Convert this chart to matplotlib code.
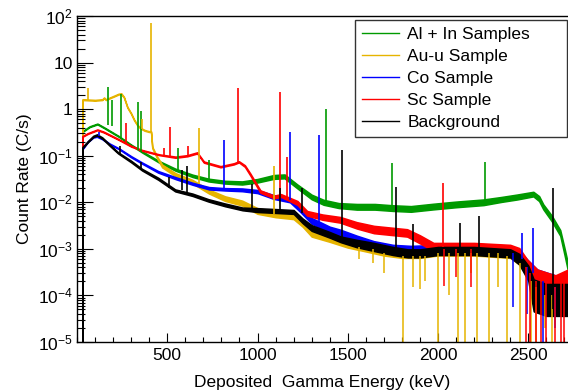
import numpy as np
import matplotlib.pyplot as plt
from matplotlib.lines import Line2D
from matplotlib.ticker import FixedLocator, FixedFormatter, MultipleLocator, LogLocator, NullFormatter

plt.rcParams['font.family'] = ['Liberation Sans', 'DejaVu Sans']
plt.rcParams['mathtext.fontset'] = 'custom'
plt.rcParams['mathtext.rm'] = 'Liberation Sans'
plt.rcParams['mathtext.it'] = 'Liberation Sans:italic'

# ---- data: energy (keV), rate (C/s), band spread factor ----
# Al + In samples
alin_e = [30, 30.5, 70, 113, 150, 231, 300, 362, 452, 546, 640, 729, 820, 915, 1000, 1090, 1150, 1220,
          1300, 1366, 1450, 1550, 1650, 1750, 1850, 1975, 2100, 2252, 2350, 2439, 2528, 2560, 2583,
          2630, 2677, 2700, 2720]
alin_r = [1e-6, 0.33, 0.42, 0.48, 0.40, 0.26, 0.17, 0.12, 0.075, 0.05, 0.037, 0.030, 0.027, 0.026,
          0.029, 0.035, 0.036, 0.022, 0.013, 0.010, 0.0085, 0.008, 0.008, 0.0075, 0.0072, 0.0081,
          0.009, 0.010, 0.0115, 0.013, 0.015, 0.012, 0.008, 0.0045, 0.0022, 0.0009, 0.0004]
alin_s = [1, 1.02, 1.02, 1.02, 1.02, 1.02, 1.02, 1.03, 1.04, 1.05, 1.06, 1.07, 1.07, 1.08, 1.09,
          1.1, 1.1, 1.1, 1.12, 1.13, 1.13, 1.15, 1.15, 1.15, 1.15, 1.15, 1.15, 1.15, 1.13, 1.13,
          1.12, 1.13, 1.13, 1.15, 1.15, 1.18, 1.2]
alin_pk_e = [172, 192, 243, 339, 357, 559, 732, 1382, 1746, 2262]
alin_pk_top = [3.0, 1.6, 2.1, 1.4, 0.9, 0.15, 0.08, 1.0, 0.07, 0.072]
alin_pk_base = [0.45, 0.43, 0.25, 0.13, 0.12, 0.05, 0.03, 0.01, 0.0075, 0.01]

# Au-u sample
au_e = [30, 30.5, 100, 140, 150, 160, 190, 230, 245, 260, 279, 300, 316, 335, 352, 375, 398, 410,
        417, 425, 445, 472, 546, 638, 731, 820, 915, 1000, 1100, 1200, 1250, 1300, 1400, 1500,
        1600, 1700, 1800, 1900, 2000, 2200, 2400, 2450, 2500, 2550, 2650, 2720]
au_r = [1e-6, 1.6, 1.55, 1.6, 1.75, 1.6, 1.8, 2.1, 2.15, 1.8, 1.1, 0.8, 0.59, 0.45, 0.39, 0.35, 0.33,
        0.33, 0.15, 0.13, 0.09, 0.06, 0.039, 0.028, 0.017, 0.012, 0.0096, 0.0065, 0.0055, 0.005,
        0.0035, 0.0022, 0.0017, 0.0013, 0.0011, 0.0009, 0.0008, 0.0008, 0.0009, 0.0009, 0.0008,
        0.0006, 0.00035, 0.00015, 0.0001, 0.0001]
au_s = [1, 1.02, 1.02, 1.02, 1.02, 1.02, 1.02, 1.02, 1.02, 1.02, 1.02, 1.02, 1.02, 1.02, 1.02,
        1.02, 1.02, 1.02, 1.03, 1.04, 1.05, 1.07, 1.08, 1.09, 1.1, 1.12, 1.13, 1.15, 1.15, 1.15,
        1.17, 1.2, 1.2, 1.22, 1.25, 1.25, 1.25, 1.25, 1.25, 1.25, 1.25, 1.3, 1.4, 1.8, 1.8, 1.8]
au_pk_e = [59, 358, 412, 675, 1090]
au_pk_top = [2.9, 0.62, 72, 0.39, 0.059]
au_pk_base = [1.6, 0.38, 0.33, 0.025, 0.0055]
au_dip_e = [1560, 1640, 1700, 1806, 1860, 1902, 1930, 2000, 2060, 2111, 2147, 2180, 2216, 2280,
            2330, 2382, 2452, 2515, 2545, 2590, 2631]
au_dip_low = [6e-4, 5e-4, 3e-4, 1e-5, 1.5e-4, 1.4e-4, 2e-4, 1e-5, 1e-4, 1e-5, 1e-5, 3e-4, 1e-5,
              1e-5, 1.5e-4, 1e-5, 1e-5, 1e-5, 1e-5, 2e-5, 1e-5]
au_dip_high = [0.0011, 0.001, 0.0008, 0.0007, 0.0007, 0.0007, 0.0007, 0.0008, 0.0008, 0.0008,
               0.0008, 0.0008, 0.0008, 0.0008, 0.0008, 0.0007, 0.0005, 0.0002, 0.00015, 0.0001,
               0.0001]

# Co sample
co_e = [30, 30.5, 60, 90, 110, 140, 180, 234, 300, 362, 450, 546, 640, 732, 820, 915, 1000, 1090,
        1180, 1238, 1300, 1400, 1460, 1550, 1644, 1750, 1850, 2000, 2200, 2400, 2450, 2500, 2550,
        2650, 2720]
co_r = [1e-6, 0.14, 0.2, 0.25, 0.26, 0.23, 0.18, 0.14, 0.095, 0.069, 0.045, 0.033, 0.025, 0.02,
        0.019, 0.0185, 0.017, 0.013, 0.011, 0.0069, 0.004, 0.0026, 0.0022, 0.0016, 0.0012, 0.001,
        0.00095, 0.001, 0.001, 0.0009, 0.0007, 0.0004, 0.0002, 0.00015, 0.00015]
co_s = [1, 1.02, 1.02, 1.02, 1.02, 1.02, 1.02, 1.02, 1.03, 1.03, 1.04, 1.05, 1.05, 1.06, 1.06,
        1.07, 1.08, 1.1, 1.1, 1.12, 1.15, 1.15, 1.17, 1.2, 1.22, 1.22, 1.22, 1.22, 1.22, 1.22,
        1.3, 1.4, 1.8, 1.8, 1.8]
co_pk_e = [122, 814, 1179, 1341, 2465, 2526]
co_pk_top = [0.33, 0.22, 0.32, 0.28, 0.0022, 0.0028]
co_pk_base = [0.26, 0.019, 0.011, 0.0035, 0.0006, 0.0003]
co_dip_e = [2418, 2492, 2580, 2650]
co_dip_low = [5.6e-5, 4e-5, 1e-5, 2e-5]
co_dip_high = [0.0008, 0.0004, 0.0002, 0.00015]

# Sc sample
sc_e = [30, 30.5, 60, 113, 150, 234, 300, 362, 455, 546, 611, 666, 703, 795, 869, 897, 930, 961,
        1016, 1092, 1130, 1221, 1275, 1360, 1459, 1550, 1645, 1829, 1900, 1975, 2200, 2400, 2450,
        2494, 2550, 2650, 2720]
sc_r = [1e-6, 0.26, 0.3, 0.36, 0.32, 0.22, 0.16, 0.13, 0.105, 0.093, 0.10, 0.115, 0.073, 0.058,
        0.067, 0.074, 0.06, 0.039, 0.017, 0.013, 0.014, 0.0097, 0.0058, 0.0048, 0.0042, 0.0032,
        0.0026, 0.0022, 0.0016, 0.0011, 0.0011, 0.0010, 0.0008, 0.00042, 0.0002, 0.00015, 0.0002]
sc_s = [1, 1.02, 1.02, 1.02, 1.02, 1.02, 1.02, 1.02, 1.02, 1.03, 1.03, 1.03, 1.03, 1.03, 1.03,
        1.03, 1.04, 1.05, 1.06, 1.07, 1.07, 1.1, 1.12, 1.14, 1.15, 1.17, 1.2, 1.2, 1.22, 1.22,
        1.22, 1.22, 1.3, 1.4, 1.8, 1.8, 1.8]
sc_pk_e = [270, 483, 513, 615, 893, 1127, 1164, 2027]
sc_pk_top = [0.5, 0.15, 0.42, 0.16, 2.8, 2.3, 0.096, 0.026]
sc_pk_base = [0.19, 0.1, 0.098, 0.1, 0.074, 0.014, 0.012, 0.0011]
sc_dip_e = [2031, 2100, 2180, 2487, 2510, 2540, 2570, 2600, 2650, 2680, 2700]
sc_dip_low = [1.6e-4, 2.5e-4, 1.5e-4, 1e-5, 1e-5, 1e-5, 1e-5, 1e-5, 1e-5, 1e-5, 1e-5]
sc_dip_high = [0.001, 0.001, 0.001, 0.0004, 0.0003, 0.0002, 0.0002, 0.0002, 0.00015, 0.0002,
               0.0002]

# Background
bg_e = [30, 30.5, 60, 90, 111, 140, 180, 228, 300, 361, 450, 544, 640, 728, 820, 917, 1000, 1100,
        1200, 1250, 1300, 1400, 1461, 1550, 1644, 1750, 1833, 1900, 2000, 2200, 2400, 2450, 2500,
        2530, 2600, 2720]
bg_r = [1e-6, 0.15, 0.2, 0.26, 0.28, 0.24, 0.17, 0.115, 0.075, 0.05, 0.032, 0.018, 0.0145, 0.011,
        0.0088, 0.0072, 0.0068, 0.0065, 0.0062, 0.004, 0.0028, 0.002, 0.0016, 0.0013, 0.0011,
        0.0009, 0.0008, 0.0008, 0.0009, 0.0009, 0.0008, 0.0006, 0.0003, 0.0001, 8e-5, 8e-5]
bg_s = [1, 1.03, 1.03, 1.03, 1.03, 1.03, 1.03, 1.03, 1.04, 1.04, 1.05, 1.05, 1.06, 1.06, 1.07,
        1.07, 1.1, 1.1, 1.1, 1.12, 1.15, 1.15, 1.15, 1.2, 1.22, 1.22, 1.22, 1.22, 1.22, 1.22,
        1.22, 1.3, 1.45, 2.2, 2.2, 2.2]
bg_pk_e = [238, 352, 511, 583, 609, 970, 1125, 1248, 1470, 1767, 1859, 2122, 2226, 2637]
bg_pk_top = [0.16, 0.075, 0.035, 0.05, 0.06, 0.025, 0.02, 0.02, 0.134, 0.021, 0.0035, 0.0036,
             0.0052, 0.02]
bg_pk_base = [0.11, 0.052, 0.02, 0.018, 0.016, 0.0068, 0.0065, 0.006, 0.0016, 0.0009, 0.0008,
              0.0009, 0.0009, 5e-5]

series = [
    ('Al + In Samples', '#009a00', alin_e, alin_r, alin_s, alin_pk_e, alin_pk_top, alin_pk_base, [], [], []),
    ('Au-u Sample', '#e6b400', au_e, au_r, au_s, au_pk_e, au_pk_top, au_pk_base, au_dip_e, au_dip_low, au_dip_high),
    ('Co Sample', '#0000ff', co_e, co_r, co_s, co_pk_e, co_pk_top, co_pk_base, co_dip_e, co_dip_low, co_dip_high),
    ('Sc Sample', '#ff0000', sc_e, sc_r, sc_s, sc_pk_e, sc_pk_top, sc_pk_base, sc_dip_e, sc_dip_low, sc_dip_high),
    ('Background', '#000000', bg_e, bg_r, bg_s, bg_pk_e, bg_pk_top, bg_pk_base, [], [], []),
]

fig = plt.figure(figsize=(5.68, 3.91), dpi=100)
ax = fig.add_axes([77/568, 49/391, 491/568, 326/391])

for name, col, e, r, s, pe, pt, pb, de, dl, dh in series:
    e = np.array(e)
    r = np.array(r)
    s = np.array(s)
    ax.fill_between(e, r / s, r * s, color=col, lw=1.1)
    ax.vlines(pe, pb, pt, color=col, lw=1.2)
    if de:
        ax.vlines(de, dl, dh, color=col, lw=1.1)

ax.set_yscale('log')
ax.set_xlim(0, 2720)
ax.set_ylim(1e-5, 1e2)

ax.xaxis.set_major_locator(FixedLocator([500, 1000, 1500, 2000, 2500]))
ax.xaxis.set_minor_locator(MultipleLocator(100))
ax.yaxis.set_major_locator(FixedLocator([1e-5, 1e-4, 1e-3, 1e-2, 1e-1, 1, 10, 100]))
ax.yaxis.set_major_formatter(FixedFormatter([r'$10^{-5}$', r'$10^{-4}$', r'$10^{-3}$', r'$10^{-2}$',
                                             r'$10^{-1}$', '1', '10', r'$10^{2}$']))
ax.yaxis.set_minor_locator(LogLocator(base=10, subs=np.arange(2, 10)))
ax.yaxis.set_minor_formatter(NullFormatter())

ax.tick_params(axis='x', which='major', direction='in', length=6.5, width=0.8, labelsize=12.5, pad=4)
ax.tick_params(axis='x', which='minor', direction='in', length=3.3, width=0.8)
ax.tick_params(axis='y', which='major', direction='in', length=11.5, width=0.8, labelsize=12.5, pad=3)
ax.tick_params(axis='y', which='minor', direction='in', length=5.5, width=0.8)
ax.spines['right'].set_visible(False)
for sp in ['left', 'bottom', 'top']:
    ax.spines[sp].set_linewidth(1.0)

ax.set_xlabel('Deposited  Gamma Energy (keV)', fontsize=12.5, labelpad=9)
ax.set_ylabel('Count Rate (C/s)', fontsize=12.5, labelpad=4)

handles = [Line2D([], [], color=s[1], lw=1) for s in series]
leg = ax.legend(handles, [s[0] for s in series], loc='upper left', mode='expand',
                bbox_to_anchor=(355/568, 1 - 134/391, 212/568, 114/391), bbox_transform=fig.transFigure,
                fontsize=12.5, fancybox=False, framealpha=1, edgecolor='#333333',
                borderaxespad=0, handlelength=2.1, handletextpad=0.5, labelspacing=0.39,
                borderpad=0.42)
leg.get_frame().set_linewidth(1.0)

fig.savefig('out.png', dpi=100)
